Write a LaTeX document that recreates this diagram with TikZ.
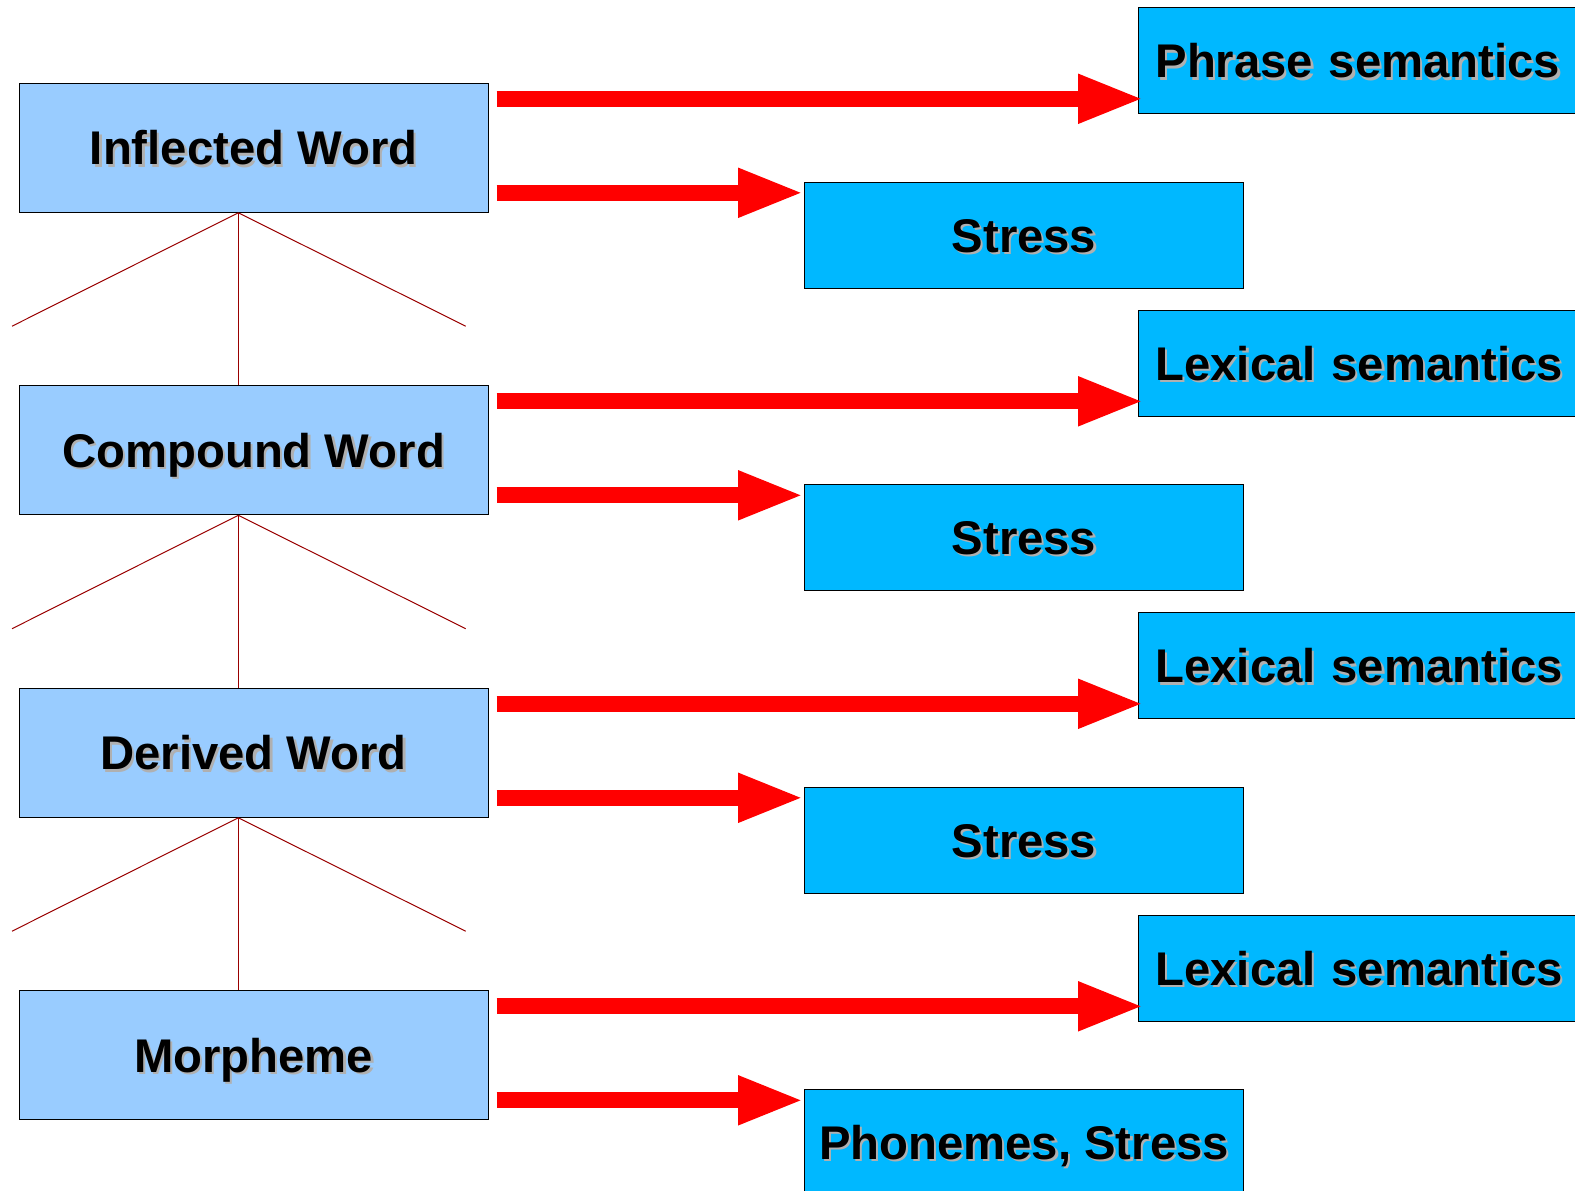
\documentclass[tikz,border=0pt]{standalone}
\usepackage{fontspec}
\setmainfont{Liberation Sans}
\usetikzlibrary{arrows.meta}
\usetikzlibrary{positioning}

\definecolor{wordblue}{HTML}{99CCFF}
\definecolor{levelblue}{HTML}{00B8FF}
\definecolor{treered}{HTML}{990000}
\definecolor{shadowgray}{HTML}{B0B0B0}

\newcommand{\shadowed}[1]{\rlap{\hspace{0.45mm}\raisebox{-0.45mm}{\color{shadowgray}#1}}#1}

\tikzset{
 box/.style={draw=black, line width=0.2mm, minimum height=21.2mm, inner sep=0pt, text height=19.3pt, text depth=0pt, font=\fontsize{26.9}{30}\selectfont\bfseries},
 wordbox/.style={box, fill=wordblue, minimum width=93.8mm, minimum height=25.8mm},
 soundbox/.style={box, fill=levelblue, anchor=north west, minimum width=87.8mm},
 meaningbox/.style={box, fill=levelblue, anchor=north west, text width=110mm, inner xsep=3.4mm, align=left},
 bigarrow/.style={red, line width=3.2mm, -{Triangle[length=13.2mm,width=9mm]}},
 tree/.style={treered, line width=0.2mm},
}

\begin{document}
\begin{tikzpicture}[x=0.2mm, y=-0.2mm]
\useasboundingbox (0,0) rectangle (1575,1191);
\foreach \i/\wordtext/\semtext/\soundtext in {0/Inflected Word/Phrase semantics/Stress, 1/Compound Word/Lexical semantics/Stress, 2/Derived Word/Lexical semantics/Stress, 3/Morpheme/Lexical semantics/{Phonemes, Stress}} {
 \node[wordbox] (w\i) at (253.6, 147.8+302.5*\i) {\shadowed{\wordtext}};
 \node[meaningbox] (m\i) at (1138, 7.3+302.5*\i) {\shadowed{\semtext}};
 \node[soundbox] (s\i) at (804, 181.7+302.5*\i) {\shadowed{\soundtext}};
 \draw[bigarrow, shorten >=-1.2mm] ([shift={(8,-49)}]w\i.east) coordinate (a\i) -- (a\i -| m\i.west);
 \draw[bigarrow] ([shift={(8,45)}]w\i.east) coordinate (b\i) -- (b\i -| s\i.west);
}
% tree lines between the word levels
\foreach \i in {0,1,2} {
 \pgfmathtruncatemacro{\j}{\i+1}
 \coordinate (top\i) at ([xshift=-3.06mm]w\i.south);
 \draw[tree] (top\i) -- (top\i |- w\j.north);
 \draw[tree] (top\i) -- ++(-226.3,113.4) coordinate (left\i);
 \draw[tree] (top\i) -- ++(227.4,113.4) coordinate (right\i);
}
\end{tikzpicture}
\end{document}
